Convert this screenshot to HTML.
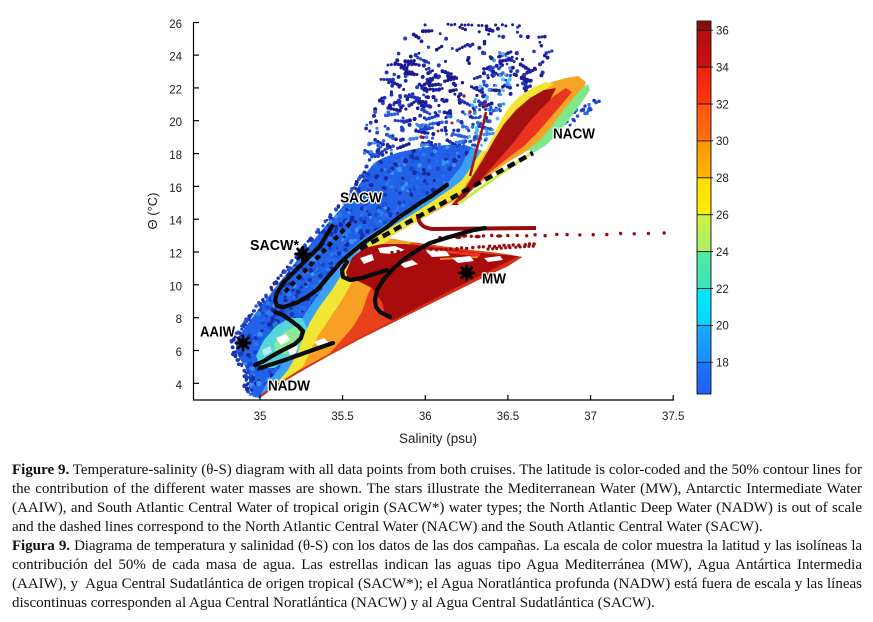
<!DOCTYPE html>
<html><head><meta charset="utf-8"><style>
html,body{margin:0;padding:0;background:#fff;}
body{width:873px;height:622px;position:relative;overflow:hidden;}
svg{position:absolute;left:0;top:0;}
.cap{position:absolute;left:12px;width:850px;font-family:"Liberation Serif",serif;font-size:15px;line-height:19px;color:#111;white-space:nowrap;}
.j{text-align:justify;text-align-last:justify;white-space:normal;height:19px;overflow:visible;}
</style></head><body>
<svg width="873" height="622" viewBox="0 0 873 622" xmlns="http://www.w3.org/2000/svg">
<defs>
<clipPath id="cl"><polygon id="basepts" points="253,397 249,388 249,376 245,366 239,358 236,350 236,341 241,333 249,322 258,310 268,297 278,284 288,272 298,259 308,247 318,235 328,223 338,212 347,201 355,191 361,182 367,172 374,163 385,157 400,152 420,148 445,145 465,145 480,150 488,152 482,165 476,178 470,190 455,200 438,210 420,220 402,230 388,238 410,242 440,246 470,250 490,252 505,254 522,257 508,266 480,279 450,294 420,309 390,324 360,339 330,355 300,372 275,387 260,398"/></clipPath>
<linearGradient id="cb" gradientUnits="userSpaceOnUse" x1="0" y1="394" x2="0" y2="21">
<stop offset="0" stop-color="#1f5ff5"/>
<stop offset="0.085" stop-color="#1a78ff"/>
<stop offset="0.086" stop-color="#1e8cff"/>
<stop offset="0.183" stop-color="#14acff"/>
<stop offset="0.184" stop-color="#06d4ff"/>
<stop offset="0.282" stop-color="#00ecf4"/>
<stop offset="0.283" stop-color="#38e6c0"/>
<stop offset="0.381" stop-color="#58e8a4"/>
<stop offset="0.382" stop-color="#a8f06a"/>
<stop offset="0.480" stop-color="#d0f040"/>
<stop offset="0.481" stop-color="#fff000"/>
<stop offset="0.579" stop-color="#ffdc00"/>
<stop offset="0.580" stop-color="#ffb400"/>
<stop offset="0.678" stop-color="#ff9600"/>
<stop offset="0.679" stop-color="#ff7010"/>
<stop offset="0.777" stop-color="#ff5410"/>
<stop offset="0.778" stop-color="#ff3810"/>
<stop offset="0.876" stop-color="#ee2010"/>
<stop offset="0.877" stop-color="#d01010"/>
<stop offset="0.975" stop-color="#b00e0e"/>
<stop offset="0.976" stop-color="#901010"/>
<stop offset="1" stop-color="#800c0c"/>
</linearGradient>
</defs>

<g id="sparse"></g>
<g id="lbdots"></g>
<g id="rbdots"></g>
<g fill="#b81818"><circle cx="421" cy="137" r="1.7"/><circle cx="464" cy="96" r="1.7"/><circle cx="470" cy="112" r="1.7"/><circle cx="452" cy="123" r="1.5"/><circle cx="438" cy="131" r="1.5"/><circle cx="485" cy="105" r="1.7"/></g>

<polygon points="253,397 249,388 249,376 245,366 239,358 236,350 236,341 241,333 249,322 258,310 268,297 278,284 288,272 298,259 308,247 318,235 328,223 338,212 347,201 355,191 361,182 367,172 374,163 385,157 400,152 420,148 445,145 465,145 480,150 488,152 482,165 476,178 470,190 455,200 438,210 420,220 402,230 388,238 410,242 440,246 470,250 490,252 505,254 522,257 508,266 480,279 450,294 420,309 390,324 360,339 330,355 300,372 275,387 260,398" fill="#2262e8"/>
<g id="edge"></g>
<g id="mottle" clip-path="url(#cl)"></g>

<g clip-path="url(#cl)">
 <polygon fill="#3aa0f6" points="258,400 266,384 278,370 287,354 294,338 300,322 310,306 322,290 332,274 340,262 350,250 364,238 383,226 403,214 420,203 436,192 446,185 460,168 470,150 480,130 700,130 700,400"/>
 <polygon fill="#52d6d8" points="256,356 264,340 276,326 290,318 302,318 308,330 302,346 290,358 274,368 262,368"/>
 <polygon fill="#8ee896" points="274,344 284,332 296,326 304,332 298,346 286,354 276,354"/>
 <polygon fill="#ffffff" points="276,338 286,334 290,340 281,345"/>
 <polygon fill="#ffffff" points="288,350 298,345 296,353 290,355"/>
 <polygon fill="#b8ecf4" points="262,350 270,346 272,352 264,356"/>
 <polygon fill="#f2e634" points="266,400 276,384 288,370 297,354 303,338 310,322 320,306 332,290 342,274 350,262 360,250 374,238 393,226 413,214 430,203 446,192 452,188 462,180 472,166 482,150 492,130 700,130 700,400"/>
 <polygon fill="#f8a024" points="280,400 292,384 302,368 310,352 318,336 330,318 342,300 352,282 360,268 368,256 380,246 398,234 418,222 436,210 452,199 458,196 470,185 480,168 490,150 500,130 700,130 700,400"/>
 <polygon fill="#ffffff" points="314,342 324,338 330,344 320,348"/>
 <polygon fill="#fbd040" points="296,378 306,368 310,372 300,382"/>
 <polygon fill="#e8401c" points="292,400 305,380 322,362 338,344 352,328 362,312 368,294 376,278 386,262 400,250 420,238 440,226 458,210 472,192 485,170 495,150 505,130 700,130 700,400"/>
 <polygon fill="#b01010" points="400,236 420,226 440,214 458,202 475,186 490,168 500,150 520,150 500,182 470,202 440,220 410,236"/>
 <polygon fill="#a80c0c" points="346,272 352,258 364,248 382,244 405,244 440,248 470,252 490,254 505,255 530,257 520,270 480,282 450,296 420,311 395,322 386,318 382,302 372,288 358,281 348,280"/>
 <polyline fill="none" stroke="#f03020" stroke-width="3" points="420,250 450,252 480,255"/>
 <polyline fill="none" stroke="#f08020" stroke-width="2" points="440,259 460,258 478,257"/>
 <polygon fill="#ffffff" points="378,248 395,246 405,250 392,254 380,253"/>
 <polygon fill="#ffffff" points="425,250 446,251 450,256 432,257"/>
 <polygon fill="#ffffff" points="452,258 470,256 474,261 458,263"/>
 <polygon fill="#ffffff" points="400,264 412,260 418,264 405,268"/>
 <polygon fill="#ffffff" points="360,258 372,254 374,260 364,264"/>
 <polygon fill="#ffffff" points="484,258 500,256 503,260 488,262"/>
 <polyline fill="none" stroke="#d83018" stroke-width="6" points="262,397 300,373 350,346 400,320 450,294 500,269 522,258"/>
</g>

<polygon fill="#f7a424" points="450,206 462,190 472,176 480,162 488,148 496,132 503,118 512,104 524,94 538,87 552,82 566,78 578,76 586,82 582,92 572,102 562,114 552,128 540,142 525,152 508,162 490,175 472,190 458,203"/>
<polygon fill="#f6e432" points="486,150 494,134 501,120 510,106 520,96 532,88 546,82 554,84 540,93 527,103 516,116 507,130 498,146 490,160"/>
<polygon fill="#e83420" points="470,190 482,176 494,160 506,146 518,132 530,118 542,106 554,96 566,88 572,92 562,104 550,118 538,132 524,146 508,158 490,172 476,186"/>
<polygon fill="#a51010" points="452,205 464,190 474,174 484,158 494,140 504,124 516,110 530,98 544,90 556,88 550,100 538,112 526,126 514,142 500,158 484,176 468,194 458,205"/>
<polygon fill="#7ee88c" points="528,150 540,140 552,126 562,112 572,100 582,88 588,84 590,90 582,102 570,118 558,134 545,146 533,153"/>
<polyline fill="none" stroke="#c8ec50" stroke-width="3" points="458,204 482,187 506,170 530,154"/>
<polyline fill="none" stroke="#a51010" stroke-width="2.5" points="470,176 476,152 482,130 486,112"/>

<path d="M418,214 C418,222 421,228 433,229 L536,228" fill="none" stroke="#9a0c0c" stroke-width="4"/>
<g id="reddots" fill="#9a0c0c"></g>

<g fill="none" stroke="#0a0a0a" stroke-width="4.2" stroke-linecap="round" stroke-linejoin="round">
<polyline points="332,226 326,236 320,246 310,256 300,266 290,276 283,283 277,293 275,300 277,306 284,307 296,303 307,297 317,290 328,277 340,263 351,253 363,243 375,235 387,227 398,218 410,210 420,203 430,197 440,190 447,185"/>
<polyline points="275,312 283,315 290,320 298,326 303,331 301,338 295,344 283,350 272,356 264,361 255,365"/>
<polyline points="260,368 285,360 310,351 333,343"/>
<polyline points="485,228 474,230 463,233 446,238 430,243 416,251 403,260 392,270 383,280 377,290 375,300 376,307 380,312 390,317"/>
<polyline points="347,262 342,270 343,277 350,280 362,278 374,274 387,270"/>
</g>
<line x1="285" y1="292" x2="353" y2="220" stroke="#0a0a0a" stroke-width="4.2" stroke-dasharray="5 4"/>
<line x1="360" y1="249" x2="533" y2="153" stroke="#0a0a0a" stroke-width="4.5" stroke-dasharray="8 5"/>

<g stroke="#000" stroke-width="3" stroke-linecap="round">
<g transform="translate(302.7,254)"><line x1="-7" y1="0" x2="7" y2="0"/><line x1="0" y1="-7" x2="0" y2="7"/><line x1="-5" y1="-5" x2="5" y2="5"/><line x1="-5" y1="5" x2="5" y2="-5"/></g>
<g transform="translate(243,343)"><line x1="-7" y1="0" x2="7" y2="0"/><line x1="0" y1="-7" x2="0" y2="7"/><line x1="-5" y1="-5" x2="5" y2="5"/><line x1="-5" y1="5" x2="5" y2="-5"/></g>
<g transform="translate(466.7,272.7)"><line x1="-7" y1="0" x2="7" y2="0"/><line x1="0" y1="-7" x2="0" y2="7"/><line x1="-5" y1="-5" x2="5" y2="5"/><line x1="-5" y1="5" x2="5" y2="-5"/></g>
</g>

<g font-family="Liberation Sans, sans-serif" font-weight="bold" font-size="14.5" fill="#000" stroke="#fff" stroke-width="2.5" paint-order="stroke" stroke-linejoin="round">
<text x="340" y="202.7" textLength="42" lengthAdjust="spacingAndGlyphs">SACW</text>
<text x="250" y="250" textLength="49" lengthAdjust="spacingAndGlyphs">SACW*</text>
<text x="200" y="336.7" textLength="35" lengthAdjust="spacingAndGlyphs">AAIW</text>
<text x="268" y="390.7" textLength="42" lengthAdjust="spacingAndGlyphs">NADW</text>
<text x="482" y="283.3" textLength="24" lengthAdjust="spacingAndGlyphs">MW</text>
<text x="553" y="138.3" textLength="42" lengthAdjust="spacingAndGlyphs">NACW</text>
</g>

<g stroke="#000" stroke-width="1.2" fill="none">
<line x1="193.5" y1="22" x2="193.5" y2="400.5"/>
<line x1="193" y1="400" x2="674" y2="400"/>
<line x1="193.5" y1="383.3" x2="199" y2="383.3"/>
<line x1="193.5" y1="350.5" x2="199" y2="350.5"/>
<line x1="193.5" y1="317.7" x2="199" y2="317.7"/>
<line x1="193.5" y1="284.8" x2="199" y2="284.8"/>
<line x1="193.5" y1="252" x2="199" y2="252"/>
<line x1="193.5" y1="219.2" x2="199" y2="219.2"/>
<line x1="193.5" y1="186.4" x2="199" y2="186.4"/>
<line x1="193.5" y1="153.6" x2="199" y2="153.6"/>
<line x1="193.5" y1="120.7" x2="199" y2="120.7"/>
<line x1="193.5" y1="87.9" x2="199" y2="87.9"/>
<line x1="193.5" y1="55.1" x2="199" y2="55.1"/>
<line x1="193.5" y1="22.5" x2="199" y2="22.5"/>
<line x1="260" y1="400" x2="260" y2="395"/>
<line x1="342.6" y1="400" x2="342.6" y2="395"/>
<line x1="425.3" y1="400" x2="425.3" y2="395"/>
<line x1="507.9" y1="400" x2="507.9" y2="395"/>
<line x1="590.6" y1="400" x2="590.6" y2="395"/>
<line x1="673.2" y1="400" x2="673.2" y2="395"/>
</g>
<g font-family="Liberation Sans, sans-serif" font-size="11.5" fill="#222" text-anchor="end">
<text x="182" y="388.8">4</text>
<text x="182" y="356">6</text>
<text x="182" y="323.2">8</text>
<text x="182" y="290.3">10</text>
<text x="182" y="257.5">12</text>
<text x="182" y="224.7">14</text>
<text x="182" y="191.9">16</text>
<text x="182" y="159.1">18</text>
<text x="182" y="126.2">20</text>
<text x="182" y="93.4">22</text>
<text x="182" y="60.6">24</text>
<text x="182" y="28">26</text>
</g>
<g font-family="Liberation Sans, sans-serif" font-size="11.5" fill="#222" text-anchor="middle">
<text x="260" y="420">35</text>
<text x="342.6" y="420">35.5</text>
<text x="425.3" y="420">36</text>
<text x="507.9" y="420">36.5</text>
<text x="590.6" y="420">37</text>
<text x="673.2" y="420">37.5</text>
</g>
<text x="438" y="443" font-family="Liberation Sans, sans-serif" font-size="13.5" fill="#222" text-anchor="middle">Salinity (psu)</text>
<text transform="translate(157,211) rotate(-90)" font-family="Liberation Sans, sans-serif" font-size="13" fill="#222" text-anchor="middle">Θ (°C)</text>

<rect x="697" y="21" width="14" height="373" fill="url(#cb)" stroke="#111" stroke-width="0.9"/>
<g stroke="#111" stroke-width="0.9">
<line x1="697" y1="30.2" x2="713" y2="30.2"/>
<line x1="697" y1="67.1" x2="713" y2="67.1"/>
<line x1="697" y1="104" x2="713" y2="104"/>
<line x1="697" y1="140.9" x2="713" y2="140.9"/>
<line x1="697" y1="177.8" x2="713" y2="177.8"/>
<line x1="697" y1="214.7" x2="713" y2="214.7"/>
<line x1="697" y1="251.6" x2="713" y2="251.6"/>
<line x1="697" y1="288.5" x2="713" y2="288.5"/>
<line x1="697" y1="325.4" x2="713" y2="325.4"/>
<line x1="697" y1="362.3" x2="713" y2="362.3"/>
</g>
<g font-family="Liberation Sans, sans-serif" font-size="11.5" fill="#222">
<text x="716" y="34.5">36</text>
<text x="716" y="71.4">34</text>
<text x="716" y="108.3">32</text>
<text x="716" y="145.2">30</text>
<text x="716" y="182.1">28</text>
<text x="716" y="219">26</text>
<text x="716" y="255.9">24</text>
<text x="716" y="292.8">22</text>
<text x="716" y="329.7">20</text>
<text x="716" y="366.6">18</text>
</g>
</svg>

<div class="cap j" style="top:461px"><b>Figure 9.</b> Temperature-salinity (θ-S) diagram with all data points from both cruises. The latitude is color-coded and the 50% contour lines for</div>
<div class="cap j" style="top:480px">the contribution of the different water masses are shown. The stars illustrate the Mediterranean Water (MW), Antarctic Intermediate Water</div>
<div class="cap j" style="top:499px">(AAIW), and South Atlantic Central Water of tropical origin (SACW*) water types; the North Atlantic Deep Water (NADW) is out of scale</div>
<div class="cap" style="top:518px">and the dashed lines correspond to the North Atlantic Central Water (NACW) and the South Atlantic Central Water (SACW).</div>
<div class="cap j" style="top:537px;letter-spacing:-0.12px;word-spacing:-1px"><b>Figura 9.</b> Diagrama de temperatura y salinidad (θ-S) con los datos de las dos campañas. La escala de color muestra la latitud y las isolíneas la</div>
<div class="cap j" style="top:556px">contribución del 50% de cada masa de agua. Las estrellas indican las aguas tipo Agua Mediterránea (MW), Agua Antártica Intermedia</div>
<div class="cap j" style="top:575px">(AAIW), y&nbsp; Agua Central Sudatlántica de origen tropical (SACW*); el Agua Noratlántica profunda (NADW) está fuera de escala y las líneas</div>
<div class="cap" style="top:594px">discontinuas corresponden al Agua Central Noratlántica (NACW) y al Agua Central Sudatlántica (SACW).</div>

<script>
(function(){
var seed=12345;function r(){seed=(seed*16807)%2147483647;return seed/2147483647;}
function inP(x,y,p){var c=false;for(var i=0,j=p.length-1;i<p.length;j=i++){var xi=p[i][0],yi=p[i][1],xj=p[j][0],yj=p[j][1];if(((yi>y)!=(yj>y))&&(x<(xj-xi)*(y-yi)/(yj-yi)+xi))c=!c;}return c;}
var NS='http://www.w3.org/2000/svg';
function dot(g,x,y,rad,col){var c=document.createElementNS(NS,'circle');c.setAttribute('cx',x.toFixed(1));c.setAttribute('cy',y.toFixed(1));c.setAttribute('r',rad.toFixed(2));if(col)c.setAttribute('fill',col);g.appendChild(c);}
function pick(a){return a[Math.floor(r()*a.length)];}
var SP=[[364,162],[365,120],[373,96],[386,64],[400,40],[410,26],[450,22],[500,22],[532,27],[546,38],[548,58],[544,76],[528,90],[510,100],[498,115],[490,135],[470,145],[440,146],[410,150],[385,157]];
var g=document.getElementById('sparse');
var dark=['#1a1a96','#1c22a6','#2030b8','#1a1a88','#2440c4','#1c1ca0'];
var low=['#1c2aae','#2244cc','#2a60e0','#3a86ec','#1a1a96','#2038c0'];
var n=0,t=0;
while(n<360&&t<40000){t++;var x=360+r()*192,y=20+r()*145;if(!inP(x,y,SP))continue;var f=0.25+0.75*((y-20)/145);if(r()>f)continue;
 var col=y<110?pick(dark):pick(low);
 if(r()<0.25){var ang=(r()-0.5)*1.2,k=3+Math.floor(r()*3);for(var i=0;i<k;i++){dot(g,x+i*3*Math.cos(ang),y+i*3*Math.sin(ang),1.5+r()*0.5,col);}}
 else dot(g,x,y,1.4+r()*0.7,col);
 n++;}
for(var x2=448;x2<522;x2+=3.4){if(r()<0.7)dot(g,x2,24+r()*2,1.5,'#1c1ca0');}
for(var x3=388;x3<418;x3+=3.4){dot(g,x3,64+r()*1.5,1.5,'#1a1a96');}
var LB=[[450,150],[462,120],[476,95],[486,70],[496,52],[508,52],[512,70],[510,90],[500,115],[492,138],[484,155],[470,175],[455,190],[446,180]];
var g2=document.getElementById('lbdots');var lc=['#3a92f0','#4ab2f8','#2a70e2','#1e4ed0','#58c0f8','#2244cc'];
n=0;t=0;while(n<110&&t<20000){t++;var x=440+r()*75,y=50+r()*142;if(!inP(x,y,LB))continue;dot(g2,x,y,1.4+r()*0.7,pick(lc));n++;}
var RB=[[556,122],[575,110],[592,98],[600,100],[596,108],[580,118],[566,128]];
var g3=document.getElementById('rbdots');n=0;t=0;while(n<30&&t<5000){t++;var x=554+r()*48,y=95+r()*35;if(!inP(x,y,RB))continue;dot(g3,x,y,1.5+r()*0.5,pick(['#2a4ad8','#2a68e6','#1e3ac4']));n++;}
var BP=[];var pts=document.getElementById('basepts').getAttribute('points').trim().split(/\s+/);for(var i=0;i<pts.length;i++){var q=pts[i].split(',');BP.push([+q[0],+q[1]]);}
var g4=document.getElementById('mottle');var mc=['#1a46cc','#2a7cf2','#1c5ce4','#3a92f8','#1936b4','#2a6ae8','#1a2a9c'];
n=0;t=0;while(n<1100&&t<40000){t++;var x=232+r()*300,y=140+r()*262;if(!inP(x,y,BP))continue;dot(g4,x,y,1.2+r()*1.6,pick(mc));n++;}
var ge=document.getElementById('edge');
for(var i=0;i<160;i++){var yy=165+r()*230;var best=null;
 for(var j=0;j<22;j++){var p1=BP[j],p2=BP[j+1];if(p1[1]>=yy&&p2[1]<=yy){var tt=(yy-p1[1])/(p2[1]-p1[1]);best=p1[0]+tt*(p2[0]-p1[0]);break;}}
 if(best===null)continue;dot(ge,best-1-r()*4,yy,1.3+r()*0.7,pick(['#1a2aa0','#1c3cc0','#2250d8']));}
var g5=document.getElementById('reddots');
for(var x=440;x<676;){var y=237-(x-440)*(4/236)+(r()-0.5)*1.4;if(r()<0.25){var e=document.createElementNS(NS,'ellipse');e.setAttribute('cx',x.toFixed(1));e.setAttribute('cy',y.toFixed(1));e.setAttribute('rx','3.2');e.setAttribute('ry','1.8');g5.appendChild(e);}else dot(g5,x,y,1.7,null);x+=4+(x-440)/22+r()*3;}
for(var x=392;x<538;){var y=252-(x-392)*(8/146)+(r()-0.5)*1.2;dot(g5,x,y,1.7,null);x+=4+r()*2.5;}
for(var x=488;x<534;){var y=249-(x-488)*(3/46);dot(g5,x,y,1.6,null);x+=4+r()*2;}
})();
</script>
</body></html>
